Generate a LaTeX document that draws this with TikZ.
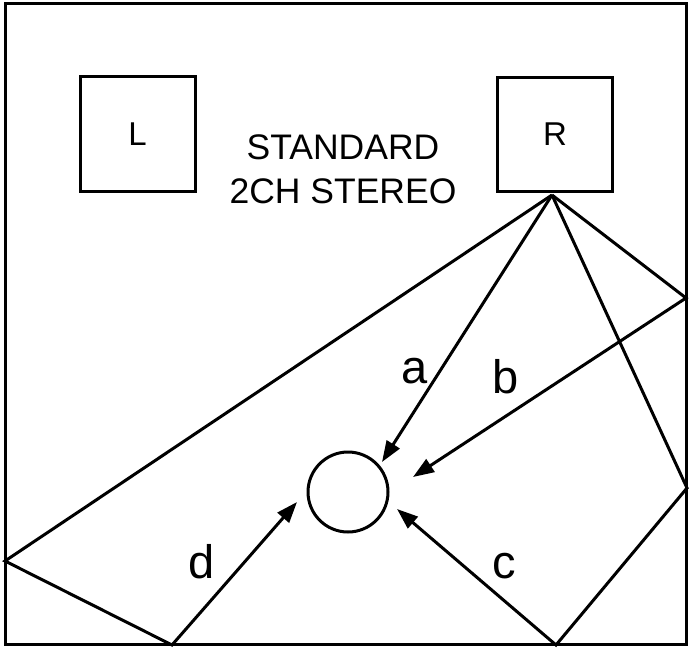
\documentclass[tikz,border=0pt]{standalone}
\usepackage{fontspec}
\setmainfont{Liberation Sans}
\usetikzlibrary{arrows.meta}
\begin{document}
\begin{tikzpicture}[x=1pt,y=-1pt,
  spkbox/.style={draw,line width=3pt,minimum width=115pt,minimum height=114pt,inner sep=0pt,font=\fontsize{33}{40}\selectfont},
  listener/.style={draw,circle,line width=3pt,minimum size=80pt,inner sep=0pt},
  lbl/.style={font=\fontsize{47}{56}\selectfont,inner sep=0pt,anchor=base},
  ray/.style={line width=3pt,line join=miter,-{Triangle[length=21pt,width=15pt]}},
  wall/.style={line width=3pt,line join=miter}]
\useasboundingbox (0,0) rectangle (692,650);
\fill[white] (0,0) rectangle (692,650);
\draw[wall] (5,4) rectangle (686,644);
\node[spkbox] (L) at (137.5,134) {L};
\node[spkbox] (R) at (555,134.5) {R};
\node[inner sep=0pt,anchor=north,align=center,font=\fontsize{35.5}{44}\selectfont] (title) at (343,135) {STANDARD\\2CH STEREO};
\node[listener] (head) at (348,492) {};
\coordinate (Rp) at (552,195);
\coordinate (W1) at (5,561);
\coordinate (B1) at (172,645);
\coordinate (E1) at (686,298);
\coordinate (E2) at (687,488);
\coordinate (B2) at (556,645);
\coordinate (ta) at (382,462);
\coordinate (tb) at (413,477);
\coordinate (tc) at (397,509);
\coordinate (td) at (297,502);
\draw[ray] (Rp) -- (ta);
\draw[ray] (Rp) -- (E1) -- (tb);
\draw[ray] (Rp) -- (E2) -- (B2) -- (tc);
\draw[ray] (Rp) -- (W1) -- (B1) -- (td);
\node[lbl] (la) at (415,383) {a};
\node[lbl] (lb) at (506,393) {b};
\node[lbl] (lc) at (504,578) {c};
\node[lbl] (ld) at (202,578) {d};
\end{tikzpicture}
\end{document}
